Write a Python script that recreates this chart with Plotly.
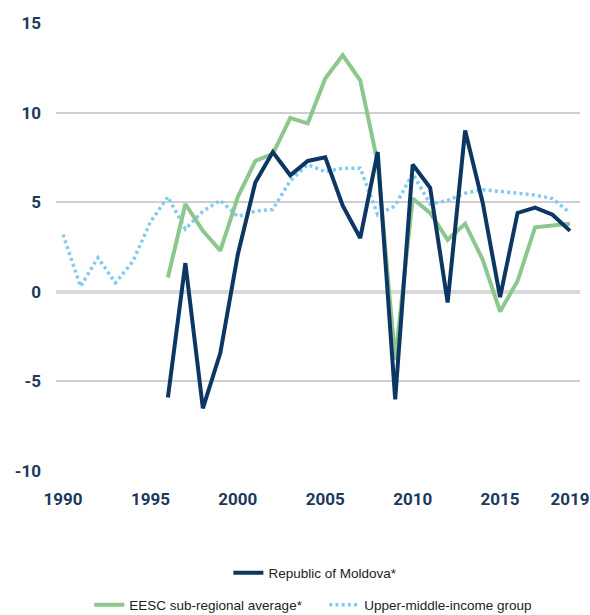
import plotly.graph_objects as go

years = list(range(1990, 2020))
years_m = list(range(1996, 2020))

moldova = [-5.9, 1.6, -6.5, -3.4, 2.1, 6.1, 7.8, 6.5, 7.3, 7.5, 4.8, 3.0, 7.8, -6.0,
           7.1, 5.8, -0.6, 9.0, 5.0, -0.3, 4.4, 4.7, 4.3, 3.4]
eesc = [0.8, 4.9, 3.4, 2.3, 5.3, 7.3, 7.7, 9.7, 9.4, 11.9, 13.2, 11.8, 7.2, -3.8,
        5.2, 4.4, 2.9, 3.8, 1.8, -1.1, 0.6, 3.6, 3.7, 3.8]
umi = [3.2, 0.3, 1.9, 0.5, 1.7, 3.9, 5.3, 3.5, 4.5, 5.1, 4.2, 4.5, 4.6, 6.2, 7.1,
       6.7, 6.9, 6.9, 4.3, 4.8, 6.6, 4.9, 5.1, 5.5, 5.7, 5.6, 5.5, 5.4, 5.2, 4.4]

x_tickvals = [1990, 1995, 2000, 2005, 2010, 2015, 2019]
x_ticktext = ["1990", "1995", "2000", "2005", "2010", "2015", "2019"]
y_tickvals = [-10, -5, 0, 5, 10, 15]
y_ticktext = ["-10", "-5", "0", "5", "10", "15"]

NAVY = "#0c3764"
GREEN = "#8cc88e"
LIGHT = "#80ccef"
TICK = "#1b3a5e"
LEG_FONT = dict(family="Liberation Sans Narrow, Liberation Sans, Arial, sans-serif",
                size=13.5, color="#222222")

fig = go.Figure()
fig.add_trace(go.Scatter(x=years, y=umi, mode="lines", name="Upper-middle-income group",
                         line=dict(color=LIGHT, width=3.5, dash="3px,3.2px"),
                         legend="legend2", legendrank=2))
fig.add_trace(go.Scatter(x=years_m, y=eesc, mode="lines", name="EESC sub-regional average*",
                         line=dict(color=GREEN, width=4), legend="legend2", legendrank=1))
fig.add_trace(go.Scatter(x=years_m, y=moldova, mode="lines", name="Republic of Moldova*",
                         line=dict(color=NAVY, width=4), legend="legend"))

fig.update_layout(
    width=590, height=615,
    margin=dict(l=56, r=10, t=23, b=144),
    plot_bgcolor="white", paper_bgcolor="white",
    showlegend=True,
    legend=dict(orientation="h", x=0.495, xanchor="center",
                y=1 - 573 / 615, yanchor="middle", yref="container",
                font=LEG_FONT, bgcolor="rgba(0,0,0,0)"),
    legend2=dict(orientation="h", x=0.512, xanchor="center",
                 y=1 - 605 / 615, yanchor="middle", yref="container",
                 font=LEG_FONT, bgcolor="rgba(0,0,0,0)", traceorder="normal",
                 entrywidth=190),
    xaxis=dict(range=[1989.6, 2019.57], tickvals=x_tickvals, ticktext=x_ticktext,
               showgrid=False, zeroline=False, showline=False, ticks="",
               ticklabelstandoff=16, automargin=False,
               tickfont=dict(family="Roboto", size=17, color=TICK, weight="bold")),
    yaxis=dict(range=[-10, 15], tickvals=y_tickvals, ticktext=y_ticktext,
               showgrid=True, gridcolor="#cfcfcf", gridwidth=1.5,
               zeroline=True, zerolinecolor="#d9d9d9", zerolinewidth=4,
               showline=False, ticks="", ticklabelstandoff=14, automargin=False,
               tickfont=dict(family="Roboto", size=17, color=TICK, weight="bold")),
)

fig.write_html("out.html", config={"displayModeBar": False},
               post_script="document.body.style.margin='0';document.body.style.padding='0';")
